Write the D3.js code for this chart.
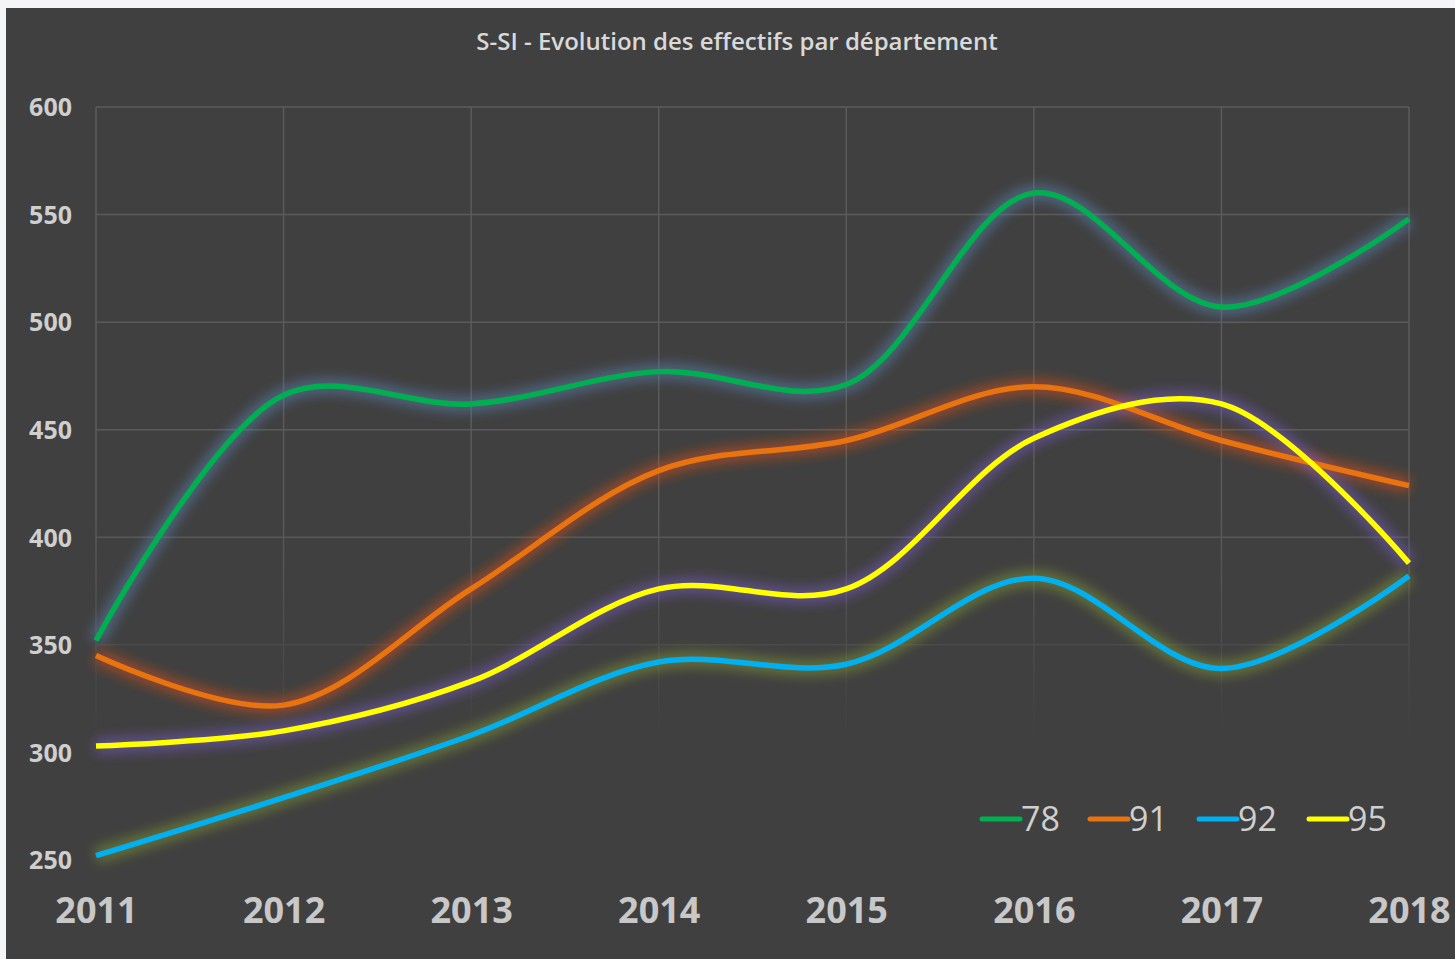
<html>
<head>
<script src="https://d3js.org/d3.v7.min.js"></script>
<style>
  body { margin: 0; background: #f4f5f7; overflow: hidden; }
  text { font-family: "Open Sans", "Noto Sans", sans-serif; }
</style>
</head>
<body>
<svg id="chart" width="1455" height="959"></svg>
<script>
    // data
    const years = [2011, 2012, 2013, 2014, 2015, 2016, 2017, 2018];
    const depts = ["78", "91", "92", "95"];
    const v78 = [352, 466, 462, 477, 471, 560, 507, 548];
    const v91 = [345, 322, 376, 431, 445, 470, 445, 424];
    const v92 = [252, 279, 308, 342, 341, 381, 339, 382];
    const v95 = [303, 310, 333, 376, 376, 446, 462, 388];
    const yTicks = [250, 300, 350, 400, 450, 500, 550, 600];

    const lineColors = ["#00b050", "#e8730f", "#00b0f0", "#ffff00"];
    const glowColors = ["#5a86b8", "#e0501a", "#86a032", "#7a5cd0"];

    const series = [v78, v91, v92, v95].map((vals, i) => ({
        name: depts[i],
        color: lineColors[i],
        glow: glowColors[i],
        values: vals.map((v, j) => ({ year: years[j], value: v }))
    }));

    const svg = d3.select("#chart");

    // chart background
    svg.append("rect")
        .attr("x", 6).attr("y", 8)
        .attr("width", 1455).attr("height", 960)
        .attr("fill", "#404040");

    const x = d3.scaleLinear().domain([2011, 2018]).range([96, 1409]);
    const y = d3.scaleLinear().domain([250, 600]).range([860, 107]);

    const defs = svg.append("defs");

    // grid fades out toward the bottom
    const grad = defs.append("linearGradient")
        .attr("id", "gridFade")
        .attr("gradientUnits", "userSpaceOnUse")
        .attr("x1", 0).attr("y1", 100).attr("x2", 0).attr("y2", 790);
    grad.append("stop").attr("offset", "0").attr("stop-color", "white");
    grad.append("stop").attr("offset", "0.6").attr("stop-color", "white");
    grad.append("stop").attr("offset", "0.93").attr("stop-color", "black");
    grad.append("stop").attr("offset", "1").attr("stop-color", "black");
    defs.append("mask").attr("id", "gridMask")
        .append("rect")
        .attr("x", 0).attr("y", 0).attr("width", 1455).attr("height", 959)
        .attr("fill", "url(#gridFade)");

    const glow = defs.append("filter")
        .attr("id", "glow")
        .attr("x", "-10%").attr("y", "-30%")
        .attr("width", "120%").attr("height", "160%");
    glow.append("feGaussianBlur").attr("stdDeviation", 6);

    const grid = svg.append("g").attr("mask", "url(#gridMask)")
        .attr("stroke", "#5b5b5b").attr("stroke-width", 1.5);

    grid.selectAll("line.h")
        .data(yTicks)
        .join("line")
        .attr("class", "h")
        .attr("x1", x(2011)).attr("x2", x(2018))
        .attr("y1", d => y(d)).attr("y2", d => y(d));

    grid.selectAll("line.v")
        .data(years)
        .join("line")
        .attr("class", "v")
        .attr("x1", d => x(d)).attr("x2", d => x(d))
        .attr("y1", y(600)).attr("y2", y(250));

    // title
    svg.append("text")
        .attr("x", 737).attr("y", 50)
        .attr("text-anchor", "middle")
        .attr("fill", "#d9d9d9")
        .attr("font-size", 24)
        .attr("font-weight", 600)
        .text("S-SI - Evolution des effectifs par département");

    // axes
    const yAxis = svg.append("g")
        .attr("transform", `translate(72,0)`)
        .call(d3.axisLeft(y).tickValues(yTicks).tickSize(0).tickPadding(0));
    yAxis.select(".domain").remove();
    yAxis.selectAll("text")
        .attr("fill", "#cfcfcf")
        .attr("font-size", 25)
        .attr("font-weight", 700)
        .attr("dy", "0.35em")
        .style("font-family", "\"Open Sans\", sans-serif");

    const xAxis = svg.append("g")
        .attr("transform", `translate(0,897)`)
        .call(d3.axisBottom(x).tickValues(years).tickFormat(d3.format("d")).tickSize(0).tickPadding(0));
    xAxis.select(".domain").remove();
    xAxis.selectAll("text")
        .attr("fill", "#c8c8c8")
        .attr("font-size", 36)
        .attr("font-weight", 700)
        .attr("dy", "0.71em")
        .style("font-family", "\"Open Sans\", sans-serif");

    const line = d3.line()
        .x(d => x(d.year))
        .y(d => y(d.value))
        .curve(d3.curveCatmullRom.alpha(0.5));

    // glows first, then the lines
    svg.append("g")
        .selectAll("path")
        .data(series)
        .join("path")
        .attr("d", d => line(d.values))
        .attr("fill", "none")
        .attr("stroke", d => d.glow)
        .attr("stroke-width", 16)
        .attr("stroke-opacity", 0.5)
        .attr("filter", "url(#glow)");

    svg.append("g")
        .selectAll("path")
        .data(series)
        .join("path")
        .attr("d", d => line(d.values))
        .attr("fill", "none")
        .attr("stroke", d => d.color)
        .attr("stroke-width", 5.5)
        .attr("stroke-linecap", "butt");

    // legend
    const legendX = [980, 1088, 1197, 1307];
    const legend = svg.append("g")
        .selectAll("g")
        .data(series)
        .join("g")
        .attr("transform", (d, i) => `translate(${legendX[i]},819)`);
    legend.append("line")
        .attr("x1", 2).attr("x2", 40)
        .attr("stroke", d => d.color)
        .attr("stroke-width", 5)
        .attr("stroke-linecap", "round");
    legend.append("text")
        .attr("x", 41).attr("y", 0)
        .attr("dy", "0.36em")
        .attr("fill", "#cfcfcf")
        .attr("font-size", 34)
        .text(d => d.name);
</script>
</body>
</html>
